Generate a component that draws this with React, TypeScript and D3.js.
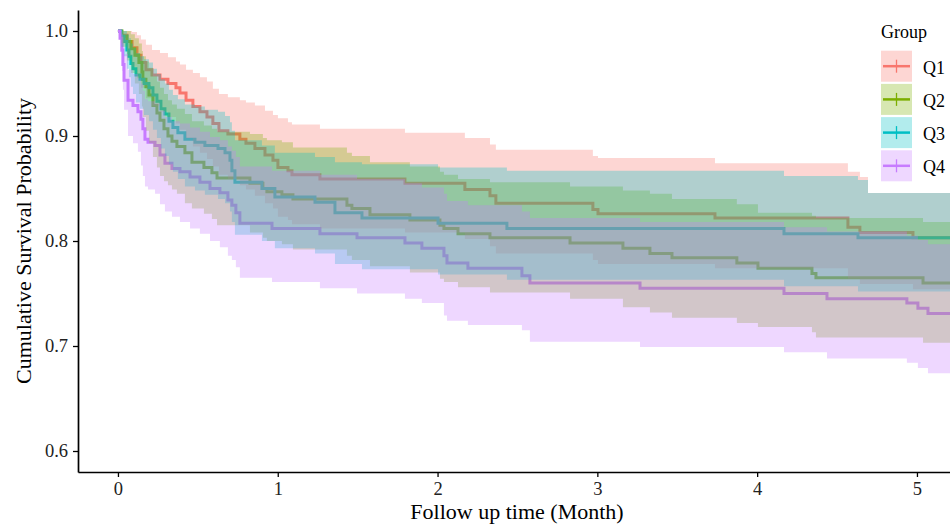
import React, { useEffect, useRef } from 'react';
import * as d3 from 'd3';

const groups = ['Q1', 'Q2', 'Q3', 'Q4'];
const colors = ['#F8766D', '#7CAE00', '#00BFC4', '#C77CFF'];
const xTicks = [0, 1, 2, 3, 4, 5];
const yTicks = [0.6, 0.7, 0.8, 0.9, 1.0];

// Q1
const q1Time = [0, 0.019, 0.056, 0.088, 0.119, 0.144, 0.175, 0.213, 0.263, 0.313, 0.363, 0.388, 0.426, 0.469, 0.513, 0.557, 0.594, 0.632, 0.688, 0.763, 0.801, 0.857, 0.920, 0.970, 1.001, 1.064, 1.089, 1.264, 1.796, 2.171, 2.328, 2.365, 2.972, 3.004, 3.736, 4.568, 4.643, 4.975];
const q1Surv = [1, 0.996, 0.990, 0.984, 0.977, 0.970, 0.963, 0.958, 0.954, 0.950, 0.946, 0.941, 0.934, 0.928, 0.923, 0.918, 0.912, 0.905, 0.902, 0.897, 0.893, 0.888, 0.882, 0.877, 0.870, 0.867, 0.863, 0.859, 0.855, 0.849, 0.843, 0.836, 0.830, 0.826, 0.822, 0.813, 0.808, 0.803];
const q1Upper = [1, 1, 1, 0.999, 0.996, 0.992, 0.987, 0.982, 0.979, 0.975, 0.971, 0.968, 0.963, 0.960, 0.956, 0.952, 0.945, 0.940, 0.937, 0.934, 0.932, 0.929, 0.924, 0.920, 0.917, 0.913, 0.911, 0.907, 0.903, 0.898, 0.892, 0.887, 0.881, 0.879, 0.874, 0.866, 0.861, 0.857];
const q1Lower = [1, 0.988, 0.976, 0.966, 0.955, 0.946, 0.936, 0.929, 0.923, 0.918, 0.912, 0.906, 0.898, 0.890, 0.884, 0.878, 0.871, 0.863, 0.859, 0.853, 0.849, 0.843, 0.836, 0.831, 0.823, 0.820, 0.816, 0.812, 0.808, 0.802, 0.795, 0.788, 0.782, 0.778, 0.774, 0.764, 0.759, 0.754];

// Q2
const q2Time = [0, 0.025, 0.056, 0.081, 0.106, 0.131, 0.150, 0.156, 0.175, 0.194, 0.219, 0.244, 0.263, 0.288, 0.313, 0.338, 0.369, 0.419, 0.463, 0.538, 0.588, 0.620, 0.826, 0.907, 0.932, 1.026, 1.095, 1.433, 1.464, 1.577, 1.827, 2.015, 2.040, 2.128, 2.328, 2.829, 3.160, 3.329, 3.467, 3.873, 4.005, 4.343, 4.368, 5.038];
const q2Surv = [1, 0.995, 0.990, 0.983, 0.977, 0.970, 0.961, 0.954, 0.947, 0.939, 0.929, 0.922, 0.915, 0.907, 0.900, 0.895, 0.890, 0.884, 0.875, 0.870, 0.865, 0.860, 0.855, 0.850, 0.847, 0.844, 0.840, 0.834, 0.831, 0.825, 0.820, 0.815, 0.812, 0.807, 0.803, 0.798, 0.793, 0.788, 0.784, 0.779, 0.774, 0.769, 0.765, 0.760];
const q2Upper = [1, 1, 1, 0.997, 0.993, 0.988, 0.981, 0.976, 0.971, 0.965, 0.957, 0.952, 0.946, 0.940, 0.934, 0.930, 0.926, 0.921, 0.914, 0.910, 0.907, 0.904, 0.902, 0.898, 0.896, 0.894, 0.889, 0.884, 0.881, 0.875, 0.871, 0.866, 0.863, 0.859, 0.856, 0.852, 0.848, 0.845, 0.840, 0.835, 0.827, 0.824, 0.822, 0.818];
const q2Lower = [1, 0.985, 0.972, 0.960, 0.950, 0.940, 0.928, 0.918, 0.905, 0.893, 0.880, 0.870, 0.862, 0.857, 0.853, 0.849, 0.845, 0.836, 0.831, 0.826, 0.821, 0.815, 0.808, 0.803, 0.800, 0.797, 0.792, 0.786, 0.782, 0.776, 0.770, 0.764, 0.761, 0.756, 0.751, 0.745, 0.737, 0.732, 0.727, 0.722, 0.718, 0.713, 0.708, 0.703];

// Q3
const q3Time = [0, 0.019, 0.038, 0.056, 0.069, 0.081, 0.094, 0.113, 0.138, 0.163, 0.194, 0.219, 0.244, 0.269, 0.294, 0.319, 0.344, 0.375, 0.419, 0.482, 0.544, 0.626, 0.670, 0.701, 0.713, 0.732, 0.901, 0.982, 1.233, 1.358, 1.527, 2.003, 2.434, 4.168, 4.631];
const q3Surv = [1, 0.995, 0.990, 0.982, 0.976, 0.969, 0.964, 0.958, 0.954, 0.950, 0.946, 0.939, 0.933, 0.926, 0.921, 0.914, 0.908, 0.903, 0.897, 0.894, 0.891, 0.888, 0.884, 0.877, 0.867, 0.856, 0.850, 0.842, 0.837, 0.827, 0.822, 0.817, 0.812, 0.807, 0.803];
const q3Upper = [1, 1, 1, 0.997, 0.993, 0.988, 0.984, 0.979, 0.976, 0.973, 0.970, 0.964, 0.959, 0.954, 0.950, 0.944, 0.939, 0.935, 0.930, 0.928, 0.925, 0.923, 0.919, 0.913, 0.905, 0.896, 0.891, 0.884, 0.880, 0.875, 0.873, 0.870, 0.867, 0.862, 0.858];
const q3Lower = [1, 0.985, 0.976, 0.964, 0.956, 0.947, 0.940, 0.932, 0.926, 0.920, 0.914, 0.906, 0.898, 0.888, 0.881, 0.873, 0.866, 0.859, 0.852, 0.848, 0.844, 0.840, 0.836, 0.828, 0.818, 0.806, 0.800, 0.793, 0.788, 0.778, 0.773, 0.768, 0.763, 0.757, 0.752];

// Q4
const q4Time = [0, 0.013, 0.025, 0.031, 0.038, 0.063, 0.094, 0.125, 0.144, 0.156, 0.169, 0.188, 0.232, 0.263, 0.294, 0.338, 0.388, 0.451, 0.513, 0.576, 0.638, 0.688, 0.713, 0.738, 0.763, 0.964, 1.264, 1.496, 1.796, 1.902, 2.040, 2.059, 2.190, 2.528, 2.578, 3.267, 4.168, 4.437, 4.937, 5.006, 5.069];
const q4Surv = [1, 0.993, 0.982, 0.968, 0.953, 0.934, 0.929, 0.923, 0.916, 0.907, 0.897, 0.894, 0.891, 0.882, 0.874, 0.869, 0.866, 0.861, 0.856, 0.850, 0.846, 0.839, 0.834, 0.827, 0.817, 0.812, 0.807, 0.803, 0.798, 0.793, 0.786, 0.779, 0.774, 0.767, 0.760, 0.755, 0.750, 0.745, 0.741, 0.736, 0.731];
const q4Upper = [1, 1, 0.997, 0.988, 0.978, 0.963, 0.959, 0.955, 0.950, 0.943, 0.935, 0.933, 0.931, 0.924, 0.918, 0.914, 0.912, 0.908, 0.904, 0.899, 0.896, 0.890, 0.886, 0.880, 0.871, 0.867, 0.863, 0.859, 0.855, 0.851, 0.845, 0.838, 0.834, 0.828, 0.822, 0.818, 0.813, 0.809, 0.805, 0.801, 0.797];
const q4Lower = [1, 0.980, 0.962, 0.944, 0.925, 0.900, 0.893, 0.885, 0.872, 0.862, 0.852, 0.849, 0.845, 0.835, 0.828, 0.823, 0.818, 0.812, 0.807, 0.800, 0.794, 0.786, 0.782, 0.775, 0.765, 0.761, 0.755, 0.750, 0.745, 0.741, 0.729, 0.724, 0.720, 0.715, 0.704, 0.699, 0.694, 0.688, 0.684, 0.679, 0.674];

const series = [
  [q1Time, q1Surv, q1Lower, q1Upper],
  [q2Time, q2Surv, q2Lower, q2Upper],
  [q3Time, q3Surv, q3Lower, q3Upper],
  [q4Time, q4Surv, q4Lower, q4Upper],
];

const serif = '"Liberation Serif", "Times New Roman", serif';

const App = () => {
  const svgRef = useRef<SVGSVGElement>(null);

  useEffect(() => {
    const svg = d3.select(svgRef.current);
    svg.selectAll('*').remove();

    const xMax = 5.35;
    const x = d3.scaleLinear().domain([-0.25, xMax]).range([78, 78 + (xMax + 0.25) * 159.8]);
    const y = d3.scaleLinear().domain([0.58, 1.02]).range([472, 10]);

    svg.append('defs').append('clipPath').attr('id', 'panel')
      .append('rect').attr('x', 78).attr('y', 10).attr('width', 900).attr('height', 462);

    const rows = series.map(([time, surv, lower, upper]) => {
      const r = time.map((t, i) => ({ t, s: surv[i], lo: lower[i], hi: upper[i] }));
      const last = r[r.length - 1];
      r.push({ ...last, t: xMax });
      return r;
    });

    const plot = svg.append('g').attr('clip-path', 'url(#panel)');

    const survLine = d3.line<any>()
      .x(d => x(d.t))
      .y(d => y(d.s))
      .curve(d3.curveStepAfter);

    const band = d3.area<any>()
      .x(d => x(d.t))
      .y0(d => y(d.lo))
      .y1(d => y(d.hi))
      .curve(d3.curveStepAfter);

    // lines sit under the ribbons
    plot.selectAll('path.surv')
      .data(rows)
      .join('path')
      .attr('class', 'surv')
      .attr('fill', 'none')
      .attr('stroke', (d, i) => colors[i])
      .attr('stroke-width', 3)
      .attr('d', d => survLine(d));

    plot.selectAll('path.band')
      .data(rows)
      .join('path')
      .attr('class', 'band')
      .attr('fill', (d, i) => colors[i])
      .attr('fill-opacity', 0.3)
      .attr('d', d => band(d));

    const gx = svg.append('g')
      .attr('transform', 'translate(0,472)')
      .call(d3.axisBottom(x).tickValues(xTicks).tickSize(5).tickPadding(5).tickSizeOuter(0).tickFormat(d3.format('d')));

    const gy = svg.append('g')
      .attr('transform', 'translate(78,0)')
      .call(d3.axisLeft(y).tickValues(yTicks).tickSize(5).tickPadding(5).tickSizeOuter(0).tickFormat(d3.format('.1f')));

    [gx, gy].forEach(g => {
      g.attr('font-family', serif).attr('font-size', 18.5);
      g.select('.domain').attr('stroke', '#000').attr('stroke-width', 1.7);
      g.selectAll('.tick line').attr('stroke', '#000').attr('stroke-width', 1.3);
      g.selectAll('.tick text')
        .attr('font-family', serif)
        .attr('font-size', 18.5)
        .attr('fill', '#222');
    });

    svg.append('text')
      .attr('x', 517).attr('y', 519)
      .attr('text-anchor', 'middle')
      .attr('font-family', serif).attr('font-size', 22)
      .text('Follow up time (Month)');

    svg.append('text')
      .attr('transform', 'translate(31,241) rotate(-90)')
      .attr('text-anchor', 'middle')
      .attr('font-family', serif).attr('font-size', 22)
      .text('Cumulative Survival Probability');

    // legend
    const lg = svg.append('g');
    lg.append('rect').attr('x', 868).attr('y', 12).attr('width', 90).attr('height', 181).attr('fill', '#fff');
    lg.append('text').attr('x', 881).attr('y', 38)
      .attr('font-family', serif).attr('font-size', 18).text('Group');

    groups.forEach((g, i) => {
      const top = 50.7 + i * 33.2;
      const cy = top + 15.5;
      const key = lg.append('g');
      key.append('rect').attr('x', 881).attr('y', top).attr('width', 31).attr('height', 31)
        .attr('fill', colors[i]).attr('fill-opacity', 0.3);
      key.append('line').attr('x1', 883).attr('x2', 910).attr('y1', cy).attr('y2', cy)
        .attr('stroke', colors[i]).attr('stroke-width', 2.5);
      key.append('line').attr('x1', 896.5).attr('x2', 896.5).attr('y1', cy - 6.5).attr('y2', cy + 6.5)
        .attr('stroke', colors[i]).attr('stroke-width', 1.3);
      key.append('text').attr('x', 923).attr('y', cy + 7.5)
        .attr('font-family', serif).attr('font-size', 18).text(g);
    });
  }, []);

  return (
    <svg ref={svgRef} width={950} height={528}
      style={{ position: 'absolute', left: 0, top: 0, background: '#fff' }} />
  );
};

export default App;
